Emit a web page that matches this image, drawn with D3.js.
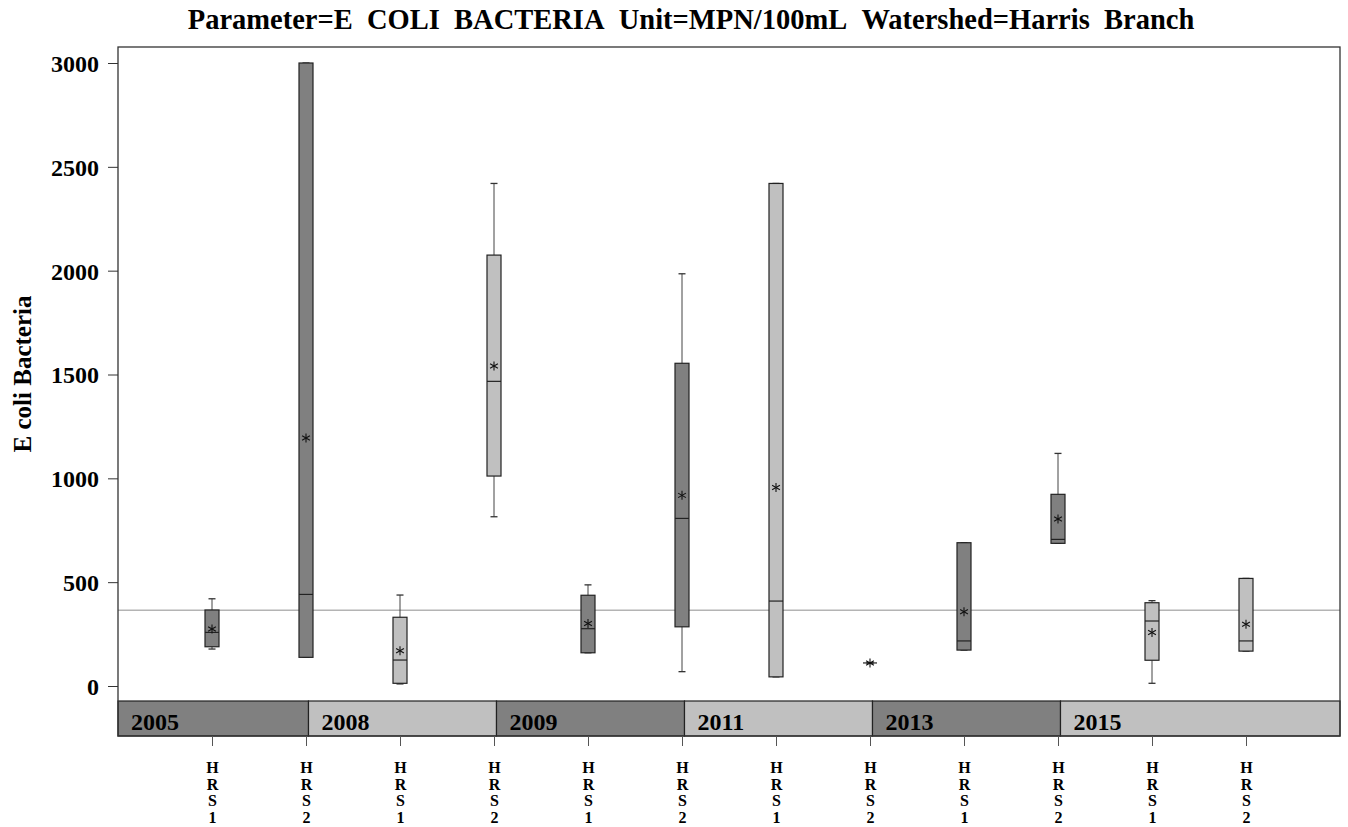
<!DOCTYPE html>
<html>
<head>
<meta charset="utf-8">
<title>E coli Bacteria - Harris Branch</title>
<script src="https://d3js.org/d3.v7.min.js"></script>
<style>
  body { margin: 0; background: #fff; }
  text { font-family: "Liberation Serif", "Times New Roman", serif; font-weight: bold; fill: #000; }
</style>
</head>
<body>
<script>
// values
const years = ["2005", "2008", "2009", "2011", "2013", "2015"];
const stations = ["HRS1", "HRS2", "HRS1", "HRS2", "HRS1", "HRS2", "HRS1", "HRS2", "HRS1", "HRS2", "HRS1", "HRS2"];
const lowWhisker = [178, 138, 10, 815, 160, 69, 44, 111, 173, 687, 13, 168];
const q1 = [189, 138, 13, 1011, 160, 285, 44, 111, 173, 687, 124, 168];
const median = [258, 441, 125, 1467, 276, 807, 409, 111, 217, 706, 313, 217];
const q3 = [366, 3000, 331, 2075, 437, 1554, 2420, 111, 690, 923, 401, 518];
const highWhisker = [420, 3000, 438, 2420, 487, 1985, 2420, 111, 690, 1120, 411, 518];
const mean = [274, 1194, 170, 1541, 301, 918, 956, 111, 358, 804, 258, 297];
const yTicks = [0, 500, 1000, 1500, 2000, 2500, 3000];
const refValue = 365;
const titleText = "Parameter=E  COLI  BACTERIA  Unit=MPN/100mL  Watershed=Harris  Branch";

const W = 1348, H = 827;
const plotLeft = 118, plotRight = 1340, plotTop = 47, bandTop = 701, bandBottom = 736;
const dark = "#808080", light = "#c0c0c0";
const serif = '"Liberation Serif", "Times New Roman", serif';

const svg = d3.select("body").append("svg")
    .attr("width", W)
    .attr("height", H);

const x = d3.scaleLinear().domain([0, stations.length + 1]).range([plotLeft, plotRight]);
const y = d3.scaleLinear().domain([0, 3000]).range([686, 63]);

// title (double spaces kept as no-break spaces)
svg.append("text")
    .attr("x", 691)
    .attr("y", 29)
    .attr("text-anchor", "middle")
    .style("font-family", serif)
    .style("font-size", "28.5px")
    .text(titleText.replace(/ /g, "\u00a0"));

// y axis title
svg.append("text")
    .attr("transform", `translate(31,${(plotTop + bandTop) / 2}) rotate(-90)`)
    .attr("text-anchor", "middle")
    .style("font-size", "25px")
    .text("E coli Bacteria");

// reference line
svg.append("line")
    .attr("x1", plotLeft).attr("x2", plotRight)
    .attr("y1", y(refValue)).attr("y2", y(refValue))
    .attr("stroke", "#b4b4b4")
    .attr("stroke-width", 1.5);

// boxes
const idx = d3.range(stations.length);
const fillOf = i => (Math.floor(i / 2) % 2 === 0 ? dark : light);
const bw = 7, cap = 3.5;

const g = svg.append("g");
idx.forEach(i => {
  const cx = x(i + 1);
  const bg = g.append("g");
  // whiskers
  bg.append("line")
      .attr("x1", cx).attr("x2", cx)
      .attr("y1", y(highWhisker[i])).attr("y2", y(q3[i]))
      .attr("stroke", "#444");
  bg.append("line")
      .attr("x1", cx).attr("x2", cx)
      .attr("y1", y(q1[i])).attr("y2", y(lowWhisker[i]))
      .attr("stroke", "#444");
  [highWhisker[i], lowWhisker[i]].forEach(v => {
    bg.append("line")
        .attr("x1", cx - cap).attr("x2", cx + cap)
        .attr("y1", y(v)).attr("y2", y(v))
        .attr("stroke", "#333")
        .attr("stroke-width", 1.3);
  });
  // box
  if (q3[i] > q1[i]) {
    bg.append("rect")
        .attr("x", cx - bw)
        .attr("y", y(q3[i]))
        .attr("width", bw * 2)
        .attr("height", y(q1[i]) - y(q3[i]))
        .attr("fill", fillOf(i))
        .attr("stroke", "#222")
        .attr("stroke-width", 1.2);
  }
  bg.append("line")
      .attr("x1", cx - bw).attr("x2", cx + bw)
      .attr("y1", y(median[i])).attr("y2", y(median[i]))
      .attr("stroke", "#222")
      .attr("stroke-width", 1.2);
  // mean marker (asterisk)
  const my = y(mean[i]), r = 4.5;
  [90, 30, 150].forEach(a => {
    const dx = Math.cos(a * Math.PI / 180) * r, dy = Math.sin(a * Math.PI / 180) * r;
    bg.append("line")
        .attr("x1", cx - dx).attr("x2", cx + dx)
        .attr("y1", my - dy).attr("y2", my + dy)
        .attr("stroke", "#111")
        .attr("stroke-width", 1.1);
  });
});

// year band
const band = svg.append("g");
years.forEach((yr, k) => {
  const x0 = k === 0 ? plotLeft : x(k * 2) + 2.5;
  const x1 = k === years.length - 1 ? plotRight : x(k * 2 + 2) + 2.5;
  band.append("rect")
      .attr("x", x0).attr("y", bandTop)
      .attr("width", x1 - x0).attr("height", bandBottom - bandTop)
      .attr("fill", k % 2 === 0 ? dark : light)
      .attr("stroke", "#222")
      .attr("stroke-width", 1.2);
  band.append("text")
      .attr("x", x0 + 13)
      .attr("y", 730)
      .style("font-size", "24px")
      .text(yr);
});

// frame
svg.append("rect")
    .attr("x", plotLeft).attr("y", plotTop)
    .attr("width", plotRight - plotLeft).attr("height", bandBottom - plotTop)
    .attr("fill", "none")
    .attr("stroke", "#333")
    .attr("stroke-width", 1.3);

// y axis
const yAxis = svg.append("g")
    .attr("transform", `translate(${plotLeft},0)`)
    .call(d3.axisLeft(y).tickValues(yTicks).tickSize(10).tickPadding(9).tickFormat(d3.format("d")));
yAxis.select(".domain").remove();
yAxis.selectAll(".tick line").attr("stroke", "#333");
yAxis.selectAll(".tick text")
    .attr("font-family", null)
    .style("font-size", "24px")
    .attr("dy", "0.35em");

// x axis with stacked station labels
const xAxis = svg.append("g")
    .attr("transform", `translate(0,${bandBottom})`)
    .call(d3.axisBottom(x).tickValues(idx.map(i => i + 1)).tickSize(10).tickFormat(""));
xAxis.select(".domain").remove();
xAxis.selectAll(".tick line").attr("stroke", "#555");
xAxis.selectAll(".tick").each(function(d) {
  const t = d3.select(this).append("text")
      .attr("text-anchor", "middle")
      .style("font-size", "16px");
  stations[d - 1].split("").forEach((ch, j) => {
    t.append("tspan")
        .attr("x", 0)
        .attr("y", 37 + j * 16.7)
        .text(ch);
  });
});
</script>
</body>
</html>
